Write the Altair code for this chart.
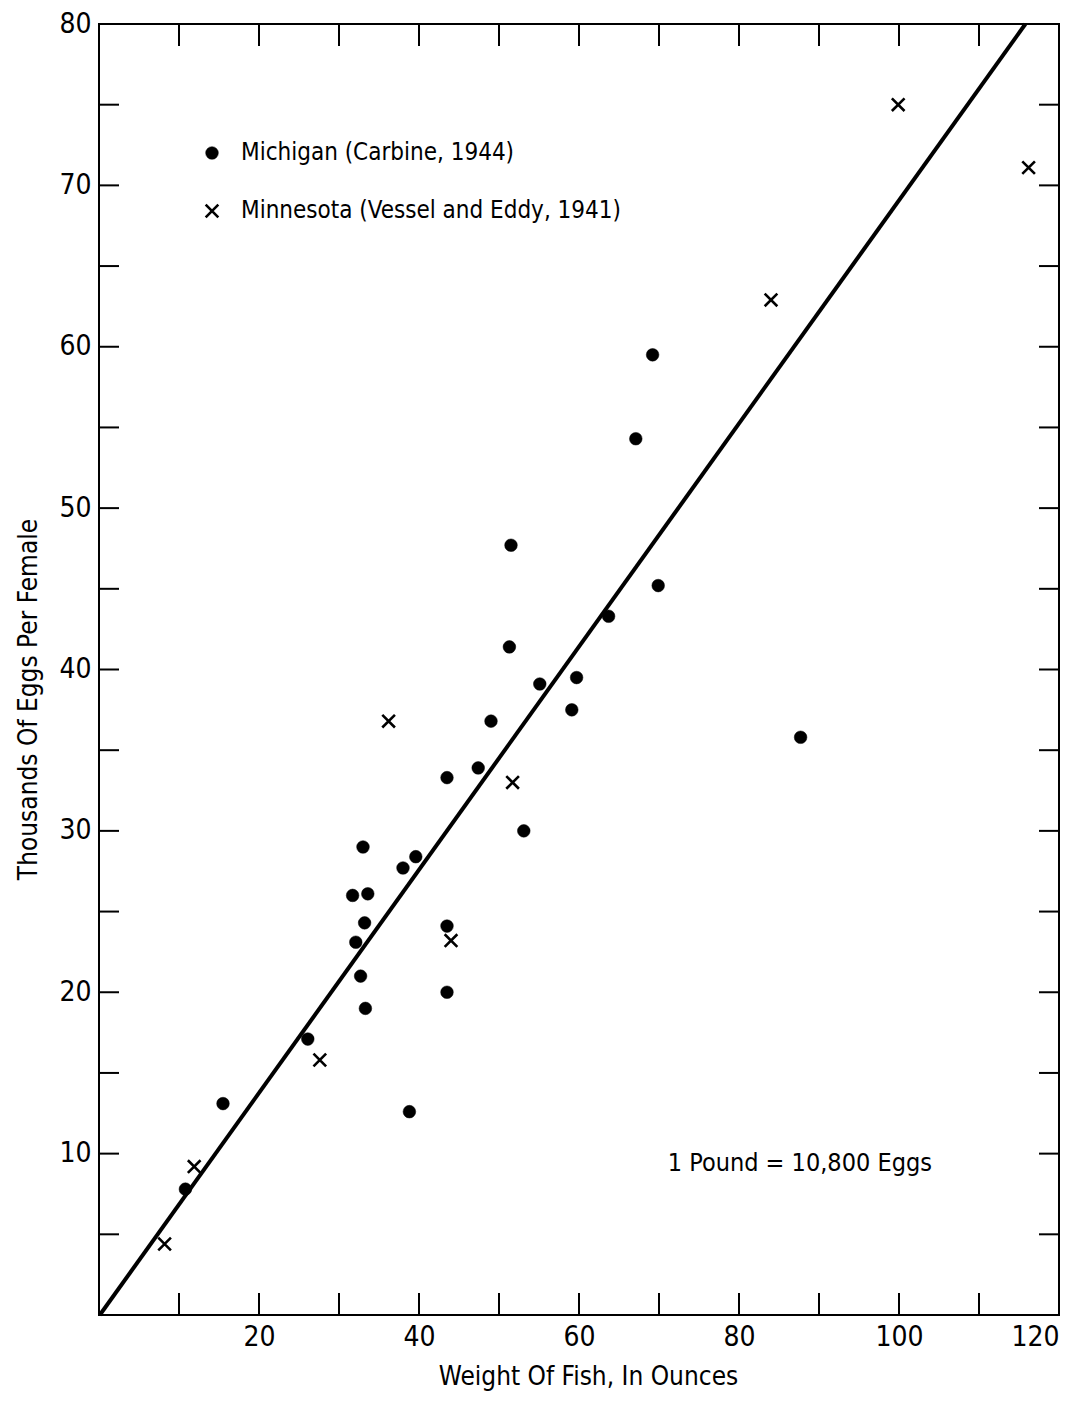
import altair as alt
import pandas as pd

# ---- data ----
series = ["Michigan (Carbine, 1944)", "Minnesota (Vessel and Eddy, 1941)"]

mich_weight = [10.8, 15.5, 26.1, 38.8, 31.7, 33.0, 33.6, 32.1, 33.2, 32.7, 33.3,
               38.0, 39.6, 43.5, 43.5, 43.5, 47.4, 49.0, 51.5, 51.3, 53.1, 55.1,
               59.1, 59.7, 63.7, 67.1, 69.2, 69.9, 87.7]
mich_eggs = [7.8, 13.1, 17.1, 12.6, 26.0, 29.0, 26.1, 23.1, 24.3, 21.0, 19.0,
             27.7, 28.4, 33.3, 24.1, 20.0, 33.9, 36.8, 47.7, 41.4, 30.0, 39.1,
             37.5, 39.5, 43.3, 54.3, 59.5, 45.2, 35.8]

minn_weight = [8.2, 11.9, 27.6, 36.2, 44.0, 51.7, 84.0, 99.9, 116.2]
minn_eggs = [4.4, 9.2, 15.8, 36.8, 23.2, 33.0, 62.9, 75.0, 71.1]

line_weight = [0.1, 115.8]
line_eggs = [0.0, 80.0]

x_label_values = [20, 40, 60, 80, 100, 120]
y_label_values = [10, 20, 30, 40, 50, 60, 70, 80]
x_tick_values = [10, 20, 30, 40, 50, 60, 70, 80, 90, 100, 110]
y_tick_values = [5, 10, 15, 20, 25, 30, 35, 40, 45, 50, 55, 60, 65, 70, 75]

note_text = "1 Pound = 10,800 Eggs"
note_weight = [71.1]
note_eggs = [9.4]

x_title = "Weight Of Fish, In Ounces"
y_title = "Thousands Of Eggs Per Female"

# ---- tables ----
pts = pd.DataFrame({
    "weight": mich_weight + minn_weight,
    "eggs": mich_eggs + minn_eggs,
    "source": [series[0]] * len(mich_weight) + [series[1]] * len(minn_weight),
})
line_df = pd.DataFrame({"weight": line_weight, "eggs": line_eggs})
xt = pd.DataFrame({"weight": x_tick_values})
yt = pd.DataFrame({"eggs": y_tick_values})
note_df = pd.DataFrame({"weight": note_weight, "eggs": note_eggs, "label": [note_text]})

W, H = 960, 1291
TICK = 22
FONT = "Liberation Sans Narrow, DejaVu Sans Condensed, Arial Narrow, sans-serif"
XPATH = "M-1,-1L1,1M-1,1L1,-1"

xscale = alt.Scale(domain=[0, 120], nice=False, zero=False)
yscale = alt.Scale(domain=[0, 80], nice=False, zero=False)

x_axis = alt.Axis(values=x_label_values, title=x_title, labelPadding=8,
                  titlePadding=12, titleX=489)
y_axis = alt.Axis(values=y_label_values, title=y_title, labelPadding=8,
                  titlePadding=17, titleY=675)

X = alt.X("weight:Q", scale=xscale, axis=x_axis)
Y = alt.Y("eggs:Q", scale=yscale, axis=y_axis)

leg = alt.Legend(title=None, orient="none", legendX=101, legendY=117,
                 labelFontSize=24, labelFont=FONT, labelColor="black",
                 labelLimit=800, symbolSize=160, rowPadding=34,
                 labelOffset=17, padding=0)

line = alt.Chart(line_df).mark_line(color="black", strokeWidth=4).encode(x=X, y=Y)

points = alt.Chart(pts).mark_point(opacity=1).encode(
    x=X, y=Y,
    shape=alt.Shape("source:N", scale=alt.Scale(domain=series, range=["circle", XPATH]), legend=leg),
    fill=alt.Fill("source:N", scale=alt.Scale(domain=series, range=["black", "transparent"]), legend=leg),
    stroke=alt.Stroke("source:N", scale=alt.Scale(domain=series, range=["black", "black"]), legend=leg),
    strokeWidth=alt.StrokeWidth("source:N", scale=alt.Scale(domain=series, range=[0.5, 2.6]), legend=leg),
    size=alt.value(160),
)

tick_style = dict(color="black", strokeWidth=2)
bottom_ticks = alt.Chart(xt).mark_rule(**tick_style).encode(
    x=alt.X("weight:Q", scale=xscale), y=alt.value(H), y2=alt.value(H - TICK))
top_ticks = alt.Chart(xt).mark_rule(**tick_style).encode(
    x=alt.X("weight:Q", scale=xscale), y=alt.value(0), y2=alt.value(TICK))
left_ticks = alt.Chart(yt).mark_rule(**tick_style).encode(
    y=alt.Y("eggs:Q", scale=yscale), x=alt.value(0), x2=alt.value(TICK - 2))
right_ticks = alt.Chart(yt).mark_rule(**tick_style).encode(
    y=alt.Y("eggs:Q", scale=yscale), x=alt.value(W), x2=alt.value(W - TICK + 2))

note = alt.Chart(note_df).mark_text(align="left", baseline="middle", fontSize=25,
                                    font=FONT, color="black").encode(
    x=alt.X("weight:Q", scale=xscale), y=alt.Y("eggs:Q", scale=yscale), text="label:N")

chart = alt.layer(line, points, bottom_ticks, top_ticks, left_ticks, right_ticks, note).properties(
    width=W, height=H,
    autosize=alt.AutoSizeParams(type="none"),
    padding={"left": 91, "top": 16, "right": 15, "bottom": 80},
    background="white",
).configure_view(
    stroke="black", strokeWidth=2
).configure_axis(
    domain=False, ticks=False, grid=False,
    labelFont=FONT, labelFontSize=28, labelColor="black",
    titleFont=FONT, titleFontSize=26, titleFontWeight="normal", titleColor="black",
)

chart.save("out.html", embed_options={"renderer": "svg", "actions": False})
